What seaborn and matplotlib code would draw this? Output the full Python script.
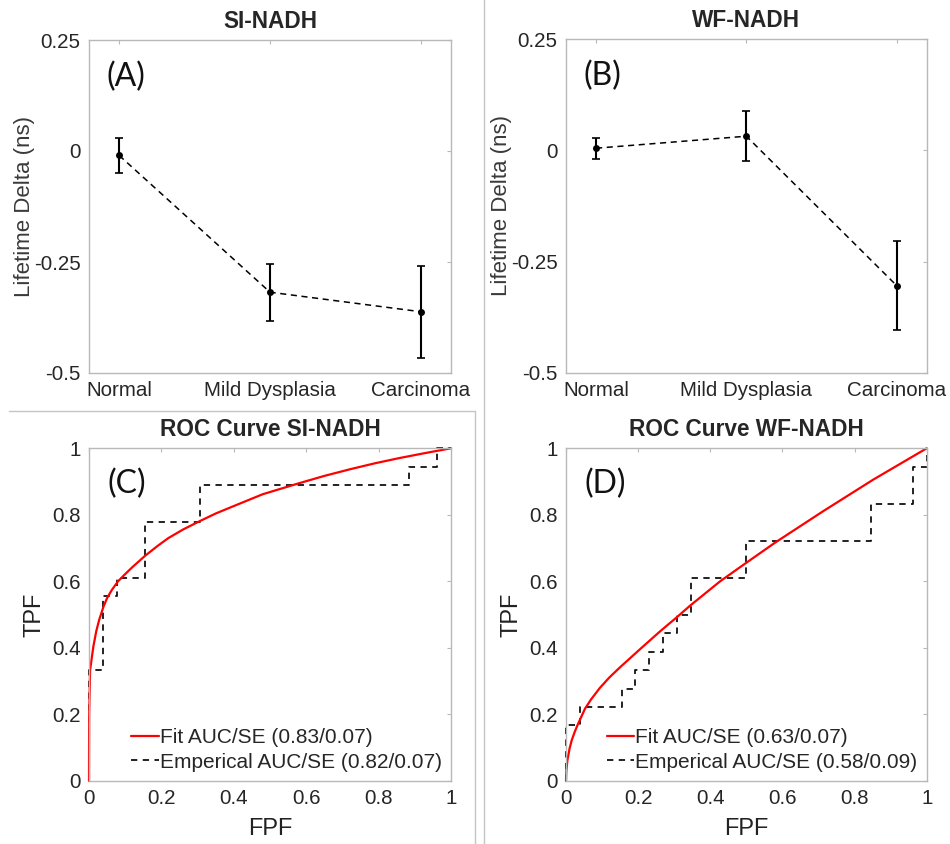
import matplotlib
matplotlib.use("Agg")
import matplotlib.pyplot as plt
import seaborn as sns
import pandas as pd
from matplotlib.lines import Line2D

# ---------------- data ----------------
categories = ["Normal", "Mild Dysplasia", "Carcinoma"]
si_mean = [-0.010, -0.318, -0.362]
si_err = [0.040, 0.064, 0.104]
wf_mean = [0.005, 0.032, -0.304]
wf_err = [0.024, 0.056, 0.100]
delta_ticks = [-0.5, -0.25, 0, 0.25]
delta_ticklabels = ["-0.5", "-0.25", "0", "0.25"]

roc_ticks = [0, 0.2, 0.4, 0.6, 0.8, 1]
roc_ticklabels = ["0", "0.2", "0.4", "0.6", "0.8", "1"]

# fitted ROC curves
si_fit_fpf = [0, 0.0005, 0.003, 0.012, 0.020, 0.028, 0.040, 0.050, 0.063, 0.080,
              0.100, 0.120, 0.155, 0.190, 0.219, 0.260, 0.302, 0.350, 0.399,
              0.480, 0.574, 0.650, 0.721, 0.790, 0.859, 0.930, 1.0]
si_fit_tpf = [0, 0.200, 0.333, 0.404, 0.450, 0.484, 0.524, 0.550, 0.574, 0.600,
              0.622, 0.643, 0.677, 0.707, 0.730, 0.756, 0.779, 0.804, 0.826,
              0.862, 0.893, 0.917, 0.937, 0.955, 0.971, 0.986, 1.0]
wf_fit_fpf = [0, 0.001, 0.004, 0.010, 0.016, 0.025, 0.034, 0.053, 0.070, 0.094,
              0.120, 0.150, 0.205, 0.261, 0.307, 0.344, 0.427, 0.496, 0.579,
              0.713, 0.852, 1.0]
wf_fit_tpf = [0, 0.030, 0.063, 0.098, 0.123, 0.150, 0.173, 0.218, 0.246, 0.280,
              0.311, 0.342, 0.396, 0.450, 0.492, 0.527, 0.600, 0.653, 0.716,
              0.811, 0.906, 1.0]

# empirical ROC operating points (step curves)
si_emp_fpf = [0, 0.038, 0.077, 0.154, 0.308, 0.885, 0.962, 1.0]
si_emp_tpf = [0, 0.333, 0.556, 0.611, 0.778, 0.889, 0.944, 1.0]
wf_emp_fpf = [0, 0.038, 0.154, 0.192, 0.231, 0.269, 0.308, 0.346, 0.500, 0.846, 0.962, 1.0, 1.0]
wf_emp_tpf = [0, 0.167, 0.222, 0.278, 0.333, 0.389, 0.444, 0.500, 0.611, 0.722, 0.833, 0.944, 1.0]

si_fit_label = "Fit AUC/SE (0.83/0.07)"
si_emp_label = "Emperical AUC/SE (0.82/0.07)"
wf_fit_label = "Fit AUC/SE (0.63/0.07)"
wf_emp_label = "Emperical AUC/SE (0.58/0.09)"

# ---------------- style ----------------
sns.set_style("white")
plt.rcParams["font.family"] = ["Liberation Sans", "DejaVu Sans"]

SPINE = "#b8b8b8"
TICKC = "#262626"
TICK_FS = 14.8
LABEL_FS = 16
TITLE_FS = 16.3
TAG_FS = 23
LEG_FS = 15

W, H = 950, 844
fig = plt.figure(figsize=(W / 100, H / 100), dpi=100)


def add_ax(l, r, t, b):
    return fig.add_axes([l / W, 1 - b / H, (r - l) / W, (b - t) / H])


def style_ax(ax):
    for s in ax.spines.values():
        s.set_color(SPINE)
        s.set_linewidth(1.0)
        s.set_visible(True)
    ax.tick_params(direction="in", length=3, width=0.8, color=SPINE,
                   top=True, right=True, labelsize=TICK_FS, labelcolor=TICKC,
                   pad=6)


def delta_panel(ax, means, errs, title, tag):
    df = pd.DataFrame({"pos": list(range(len(categories))), "delta": means})
    sns.lineplot(data=df, x="pos", y="delta", ax=ax, color="black",
                 linewidth=1.1, linestyle="--", marker="o", markersize=5,
                 markeredgewidth=0, sort=False, estimator=None)
    ax.lines[-1].set_dashes((4, 3))
    ax.errorbar(df["pos"], df["delta"], yerr=errs, fmt="none", ecolor="black",
                elinewidth=1.5, capsize=2.8, capthick=1.2)
    ax.set_xlim(-0.2, 2.2)
    ax.set_ylim(-0.5, 0.25)
    ax.set_xticks(range(len(categories)))
    ax.set_xticklabels(categories)
    ax.set_yticks(delta_ticks)
    ax.set_yticklabels(delta_ticklabels)
    ax.set_xlabel("")
    ax.set_ylabel("Lifetime Delta (ns)", fontsize=LABEL_FS, color="#3a3a3a",
                  labelpad=-1)
    ax.set_title(title, fontsize=TITLE_FS, fontweight="bold", pad=9)
    style_ax(ax)
    ax.text(0.048, 0.935, tag, transform=ax.transAxes, ha="left", va="top",
            fontsize=TAG_FS, family=["Lato", "DejaVu Sans"], color="#111111")


def roc_panel(ax, fit_x, fit_y, emp_x, emp_y, fit_label, emp_label, title, tag):
    sns.lineplot(x=emp_x, y=emp_y, ax=ax, color="#111111", linewidth=1.3,
                 linestyle="--", drawstyle="steps-pre", sort=False,
                 estimator=None, label=emp_label, clip_on=False)
    ax.lines[-1].set_dashes((3.5, 3))
    sns.lineplot(x=fit_x, y=fit_y, ax=ax, color="#ff0000", linewidth=1.6,
                 sort=False, estimator=None, label=fit_label, clip_on=False)
    ax.set_xlim(0, 1)
    ax.set_ylim(0, 1)
    ax.set_xticks(roc_ticks)
    ax.set_xticklabels(roc_ticklabels)
    ax.set_yticks(roc_ticks)
    ax.set_yticklabels(roc_ticklabels)
    ax.set_xlabel("FPF", fontsize=LABEL_FS + 1, color="#222222", labelpad=7)
    ax.set_ylabel("TPF", fontsize=LABEL_FS + 1, color="#222222", labelpad=5)
    ax.set_title(title, fontsize=TITLE_FS, fontweight="bold", pad=9)
    style_ax(ax)
    h, l = ax.get_legend_handles_labels()
    ax.legend(h[::-1], l[::-1], loc="lower right", frameon=False,
              fontsize=LEG_FS, handlelength=1.3, handletextpad=0.05,
              labelspacing=0.25, borderpad=0.2, borderaxespad=0.25)
    ax.text(0.052, 0.94, tag, transform=ax.transAxes, ha="left", va="top",
            fontsize=TAG_FS, family=["Lato", "DejaVu Sans"], color="#111111")


axA = add_ax(89, 451, 40, 373)
axB = add_ax(566, 926.7, 39.3, 372.7)
axC = add_ax(89, 451, 448.3, 781)
axD = add_ax(566, 926.7, 448.3, 781)

delta_panel(axA, si_mean, si_err, "SI-NADH", "(A)")
delta_panel(axB, wf_mean, wf_err, "WF-NADH", "(B)")
roc_panel(axC, si_fit_fpf, si_fit_tpf, si_emp_fpf, si_emp_tpf,
          si_fit_label, si_emp_label, "ROC Curve SI-NADH", "(C)")
roc_panel(axD, wf_fit_fpf, wf_fit_tpf, wf_emp_fpf, wf_emp_tpf,
          wf_fit_label, wf_emp_label, "ROC Curve WF-NADH", "(D)")

# separator lines of the composite figure
SEP = "#c4c4c4"
fig.add_artist(Line2D([484 / W, 484 / W], [0, 1], color=SEP, lw=1.0))
fig.add_artist(Line2D([9 / W, 475 / W], [1 - 411 / H, 1 - 411 / H], color=SEP, lw=1.0))
fig.add_artist(Line2D([475 / W, 475 / W], [1 - 411 / H, 0], color=SEP, lw=1.0))

fig.savefig("out.png", dpi=100)
